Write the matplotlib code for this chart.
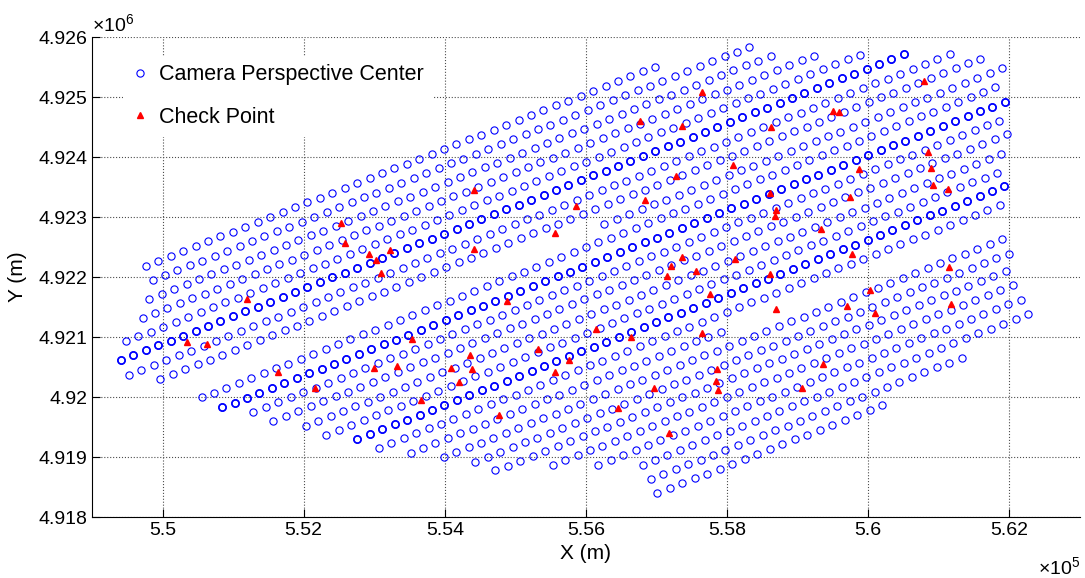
import numpy as np
import matplotlib.pyplot as plt
from matplotlib.ticker import FuncFormatter

plt.rcParams['font.family'] = ['Liberation Sans', 'DejaVu Sans']
plt.rcParams['mathtext.default'] = 'regular'

# flight strips: first / last exposure of each strip and number of photos on it
strip_x0 = [549764, 549858, 549811, 549717, 549481, 549410, 549524, 549967, 556259,
            550552, 550844, 551288, 551571, 552028, 552321, 552759, 553066, 553514,
            553986, 554434, 554717, 555528, 556175, 556802, 556920, 557009]
strip_y0 = [4922191, 4921951, 4921641, 4921319, 4920928, 4920618, 4920370, 4920301, 4922886,
            4919992, 4919826, 4919752, 4919604, 4919520, 4919372, 4919300, 4919152, 4919070,
            4918998, 4918919, 4918777, 4918867, 4918875, 4918874, 4918633, 4918398]
strip_x1 = [556981, 558316, 558618, 559231, 559882, 560505, 561156, 561590, 561896,
            561802, 561934, 561859, 561967, 561882, 561826, 561929, 561863, 557910,
            561896, 561991, 561948, 562047, 562160, 562264, 561321, 560198]
strip_y1 = [4925507, 4925837, 4925687, 4925690, 4925706, 4925714, 4925713, 4925641, 4925476,
            4925160, 4924921, 4924608, 4924380, 4924047, 4923738, 4923513, 4923193, 4921089,
            4922632, 4922391, 4922099, 4921862, 4921625, 4921384, 4920655, 4919862]
strip_n = [42, 49, 51, 55, 60, 64, 67, 67, 33, 65, 64, 61, 60, 57, 55, 53, 51, 26,
           46, 44, 42, 38, 35, 32, 26, 19]
# strips flown twice (overlapping exposures look bold)
double_strips = [5, 10, 15]

check_x = [554420, 555859, 552524, 552580, 555566, 552925, 553019, 553226, 554410, 553099,
           551198, 550340, 550627, 554877, 553533, 551637, 555325, 555755, 552991, 553321,
           554363, 554080, 554382, 555566, 552156, 554198, 553665, 554774,
           557646, 556764, 557363, 558623, 559500, 559585, 560788, 558085, 557278, 556835,
           558604, 558689, 558675, 559873, 559736, 560840, 560887, 560915, 561123, 559335,
           557363, 557208, 557552, 557142, 558108, 558613, 559764, 557755, 558698, 560024,
           559693, 560094, 561141, 561174, 556141, 556637, 557637, 557854, 557840, 557877,
           559363, 559061, 556967, 556448, 557170]
check_y = [4923444, 4923178, 4922900, 4922572, 4922733, 4922378, 4922278, 4922444, 4922472, 4922066,
           4921633, 4920911, 4920877, 4921600, 4920972, 4920416, 4920805, 4920622, 4920483, 4920516,
           4920694, 4920483, 4920472, 4920416, 4920150, 4920250, 4919955, 4919694,
           4925083, 4924594, 4924511, 4924500, 4924761, 4924750, 4925267, 4923872, 4923683, 4923289,
           4923400, 4923111, 4923022, 4923805, 4923333, 4924083, 4923816, 4923528, 4923472, 4922805,
           4922339, 4922183, 4922105, 4922011, 4922300, 4922055, 4922378, 4921722, 4921472, 4921777,
           4921522, 4921405, 4922166, 4921544, 4921127, 4921000, 4921066, 4920472, 4920266, 4920111,
           4920555, 4920155, 4920155, 4919816, 4919405]

cam_x = np.concatenate([np.linspace(a, b, n) for a, b, n in zip(strip_x0, strip_x1, strip_n)])
cam_y = np.concatenate([np.linspace(a, b, n) for a, b, n in zip(strip_y0, strip_y1, strip_n)])

fig = plt.figure(figsize=(10.85, 5.78), dpi=100)
ax = fig.add_axes([92 / 1085, 61 / 578, 988 / 1085, 480 / 578])

ax.plot(cam_x, cam_y, 'o', ls='none', mfc='none', mec='blue', ms=5.2, mew=0.8,
        label='Camera Perspective Center')
for i in double_strips:
    xs = np.linspace(strip_x0[i], strip_x1[i], strip_n[i])
    ys = np.linspace(strip_y0[i], strip_y1[i], strip_n[i])
    ax.plot(xs, ys, 'o', ls='none', mfc='none', mec='blue', ms=5.2, mew=1.2)
ax.plot(check_x, check_y, '^', ls='none', color='red', ms=5, label='Check Point')

ax.set_xlim(549000, 563000)
ax.set_ylim(4918000, 4926000)
ax.set_xticks(np.arange(550000, 563000, 2000))
ax.set_yticks(np.arange(4918000, 4926001, 1000))
ax.xaxis.set_major_formatter(FuncFormatter(lambda v, p: f"{v / 1e5:g}"))
ax.yaxis.set_major_formatter(FuncFormatter(lambda v, p: f"{v / 1e6:g}"))
ax.tick_params(direction='in', length=6, width=0.8, labelsize=14, top=False, right=False)
ax.grid(True, ls=':', color='0.3', lw=0.8)
ax.spines['top'].set_visible(False)
ax.spines['right'].set_visible(False)

ax.set_xlabel('X (m)', fontsize=15, labelpad=4)
ax.set_ylabel('Y (m)', fontsize=15, labelpad=8)
fig.text(1080 / 1085, 1 - 567 / 578, '×10$^{5}$', fontsize=14, va='center', ha='right')
fig.text(92 / 1085, 1 - 24 / 578, '×10$^{6}$', fontsize=14, va='center')

leg = ax.legend(loc='upper left', bbox_to_anchor=(112 / 1085, 1 - 45 / 578),
                bbox_transform=fig.transFigure, fontsize=15.5, frameon=True,
                fancybox=False, edgecolor='none', framealpha=1, handlelength=0.8,
                handletextpad=0.5, labelspacing=1.0, borderpad=0.4)

fig.savefig('out.png', dpi=100)
